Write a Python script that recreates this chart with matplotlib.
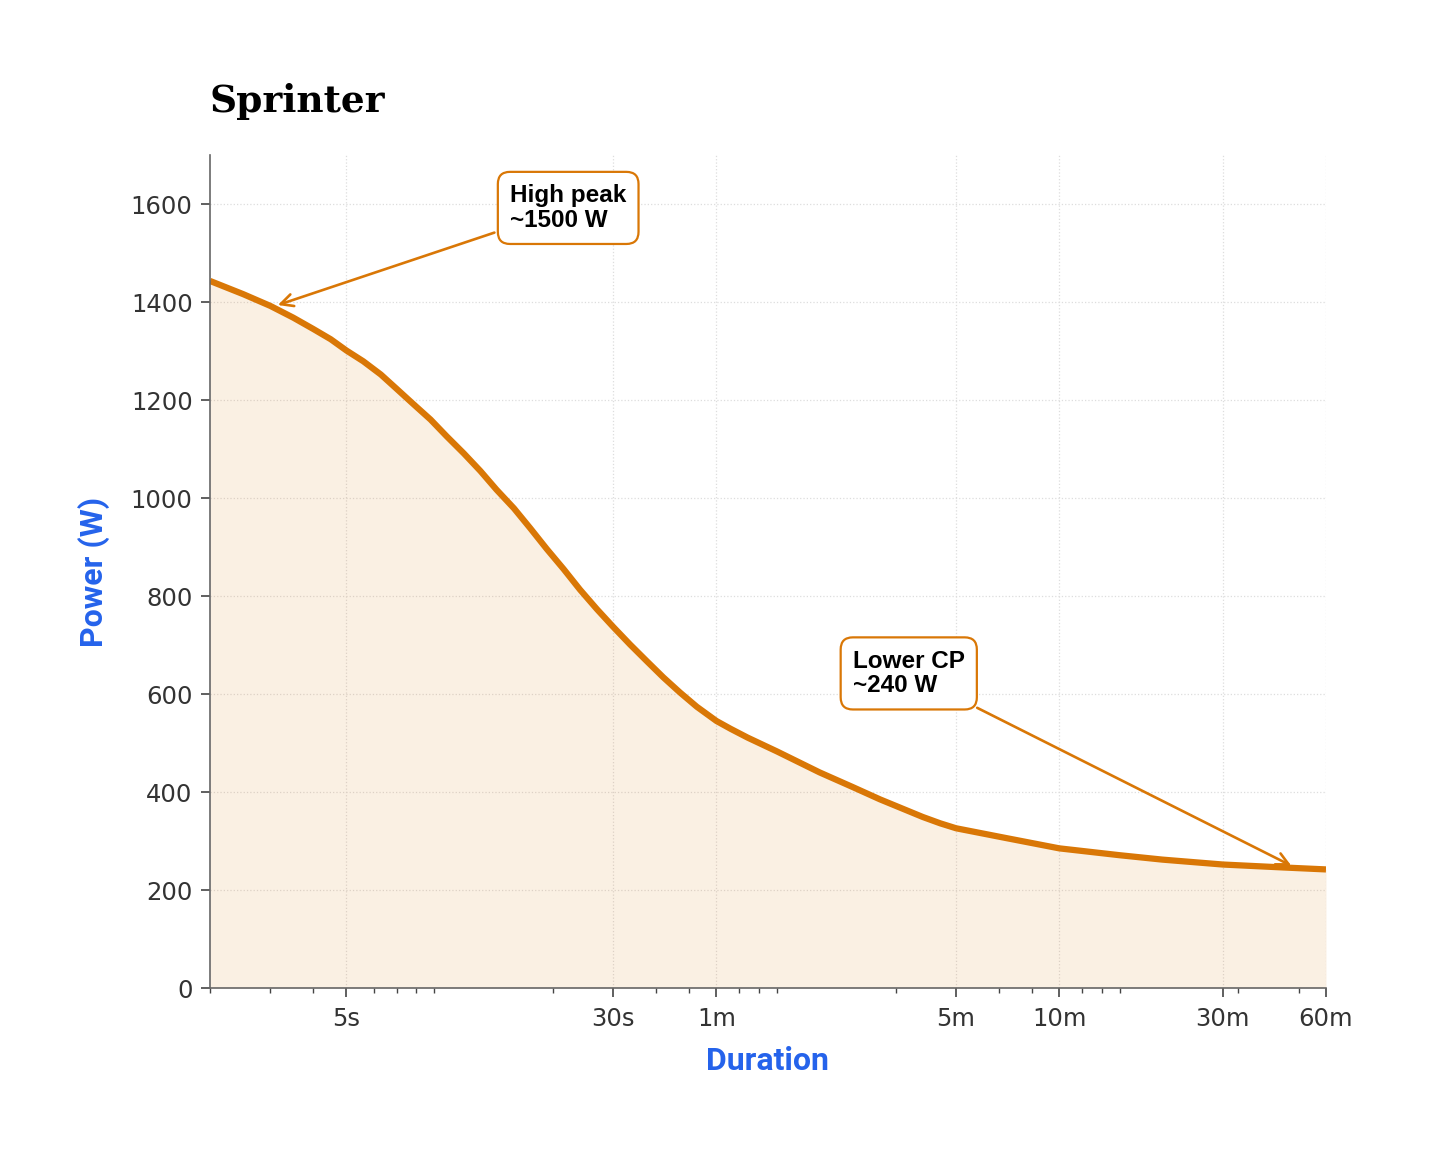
import matplotlib.pyplot as plt
from matplotlib.ticker import NullFormatter

# Power-duration curve (seconds, watts)
durations = [2, 2.5, 3, 3.5, 4, 4.5, 5, 5.6, 6.3, 7, 7.8, 8.8, 9.8, 11,
             12.3, 13.7, 15.4, 17.2, 19.2, 21.5, 24, 26.9, 30, 33.6, 37.6,
             42, 47, 52.6, 60, 66, 74, 90, 120, 150, 180, 240, 270, 300,
             420, 600, 900, 1200, 1800, 2700, 3600]
power = [1443, 1416, 1392, 1368, 1345, 1324, 1301, 1279, 1252, 1223, 1193,
         1160, 1126, 1091, 1055, 1017, 979, 938, 896, 855, 813, 773, 737,
         701, 667, 634, 603, 574, 545, 529, 511, 483, 440, 410, 385, 349,
         336, 326, 306, 285, 271, 262, 252, 246, 242]

tick_secs = [5, 30, 60, 300, 600, 1800, 3600]
tick_labels = ['5s', '30s', '1m', '5m', '10m', '30m', '60m']
y_ticks = [0, 200, 400, 600, 800, 1000, 1200, 1400, 1600]

orange = '#D97706'
blue = '#2563EB'

fig = plt.figure(figsize=(14.35, 11.58), dpi=100)
ax = fig.add_axes([210 / 1435, 1 - 988 / 1158, 1116 / 1435, 833 / 1158])

ax.fill_between(durations, power, 0, color=orange, alpha=0.11, lw=0)
ax.plot(durations, power, color=orange, lw=4.5, solid_joinstyle='round',
        solid_capstyle='butt')

ax.set_xscale('log')
ax.set_xlim(2, 3600)
ax.set_ylim(0, 1700)
ax.set_xticks(tick_secs)
ax.set_xticklabels(tick_labels)
ax.xaxis.set_minor_formatter(NullFormatter())
ax.set_yticks(y_ticks)

ax.grid(True, which='major', ls=':', color='#dddddd', lw=0.9)
ax.set_axisbelow(True)

for side in ['top', 'right']:
    ax.spines[side].set_visible(False)
for side in ['left', 'bottom']:
    ax.spines[side].set_color('#666666')
    ax.spines[side].set_linewidth(1.2)

ax.tick_params(which='major', length=6.5, width=1.2, color='#444444',
               labelsize=17.5, labelcolor='#333333', pad=6)
ax.tick_params(axis='x', which='major', pad=7.5)
ax.tick_params(which='minor', length=3.5, width=1.0, color='#444444')

ax.set_xlabel('Duration', family='Roboto', weight='bold', fontsize=23,
              color=blue, labelpad=10.5)
ax.set_ylabel('Power (W)', family='Roboto', weight='bold', fontsize=23,
              color=blue, labelpad=15)
ax.set_title('Sprinter', loc='left', family='DejaVu Serif', weight='bold',
             fontsize=27, pad=31)

box = dict(boxstyle='round,pad=0.5', fc='white', ec=orange, lw=1.6)
arrow = dict(arrowstyle='->', color=orange, lw=1.9, mutation_scale=22)

ax.annotate('High peak\n~1500 W', xy=(3.1, 1392), xytext=(15, 1592),
            ha='left', va='center', family='Liberation Sans', weight='bold',
            fontsize=17.5, linespacing=1.1, bbox=box, arrowprops=arrow)
ax.annotate('Lower CP\n~240 W', xy=(2900, 247), xytext=(150, 642),
            ha='left', va='center', family='Liberation Sans', weight='bold',
            fontsize=17.5, linespacing=1.1, bbox=box, arrowprops=arrow)

fig.savefig('out.png', dpi=100)
